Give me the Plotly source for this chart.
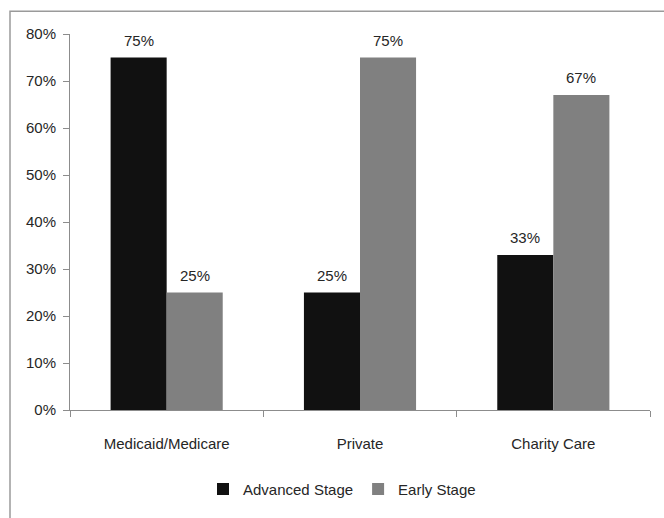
import plotly.graph_objects as go

categories = ["Medicaid/Medicare", "Private", "Charity Care"]
advanced = [0.75, 0.25, 0.33]
early = [0.25, 0.75, 0.67]
y_ticks = [0, 0.1, 0.2, 0.3, 0.4, 0.5, 0.6, 0.7, 0.8]
y_tick_labels = ["0%", "10%", "20%", "30%", "40%", "50%", "60%", "70%", "80%"]

FONT = "Liberation Sans Narrow, Arial Narrow, Liberation Sans, Arial, sans-serif"
TXT = "#262626"

fig = go.Figure()
fig.add_trace(go.Bar(
    x=categories, y=advanced, name="Advanced Stage",
    marker=dict(color="#111111", line=dict(width=0)),
    offsetgroup="a",
))
fig.add_trace(go.Bar(
    x=categories, y=early, name="Early Stage",
    marker=dict(color="#808080", line=dict(width=0)),
    offsetgroup="b",
))

L, R, T, B = 70, 14, 34, 105
W, H = 664, 518
pw, ph = W - L - R, H - T - B
bargap = 0.42
half = (1 - bargap) / 4  # centre offset of each bar within category (in category units)

annotations = []
for i, cat in enumerate(categories):
    for vals, off in ((advanced, -half), (early, half)):
        annotations.append(dict(
            x=i + off, y=vals[i], xref="x", yref="y",
            text=f"{round(vals[i]*100)}%", showarrow=False,
            yanchor="bottom", yshift=7,
            font=dict(size=15, color=TXT, family=FONT)))

fig.update_layout(
    width=W, height=H,
    margin=dict(l=L, r=R, t=T, b=B),
    paper_bgcolor="white", plot_bgcolor="white",
    barmode="group", bargap=bargap, bargroupgap=0,
    font=dict(family=FONT, size=15, color=TXT),
    showlegend=True,
    legend=dict(orientation="h", x=(342 - L) / pw, xanchor="center",
                y=(T + ph - 493) / ph, yanchor="middle",
                font=dict(size=15, family=FONT), itemwidth=30,
                tracegroupgap=0, bgcolor="rgba(0,0,0,0)"),
    xaxis=dict(showline=True, linecolor="#8c8c8c", linewidth=1,
               ticks="outside", tickson="boundaries", ticklen=6,
               tickcolor="#8c8c8c", ticklabelstandoff=20,
               tickfont=dict(size=15, family=FONT), showgrid=False),
    yaxis=dict(range=[0, 0.8], tickvals=y_ticks, ticktext=y_tick_labels,
               showline=True, linecolor="#8c8c8c", linewidth=1,
               ticks="outside", ticklen=6, tickcolor="#8c8c8c",
               ticklabelstandoff=4,
               tickfont=dict(size=15, family=FONT), showgrid=False,
               zeroline=False),
    annotations=annotations,
    shapes=[dict(type="rect", xref="paper", yref="paper",
                 x0=(10 - L) / pw, x1=(680 - L) / pw,
                 y0=(T + ph - 540) / ph, y1=(T + ph - 11) / ph,
                 line=dict(color="#9a9a9a", width=1.5), fillcolor="rgba(0,0,0,0)",
                 layer="below")],
)

fig.write_html("out.html")
